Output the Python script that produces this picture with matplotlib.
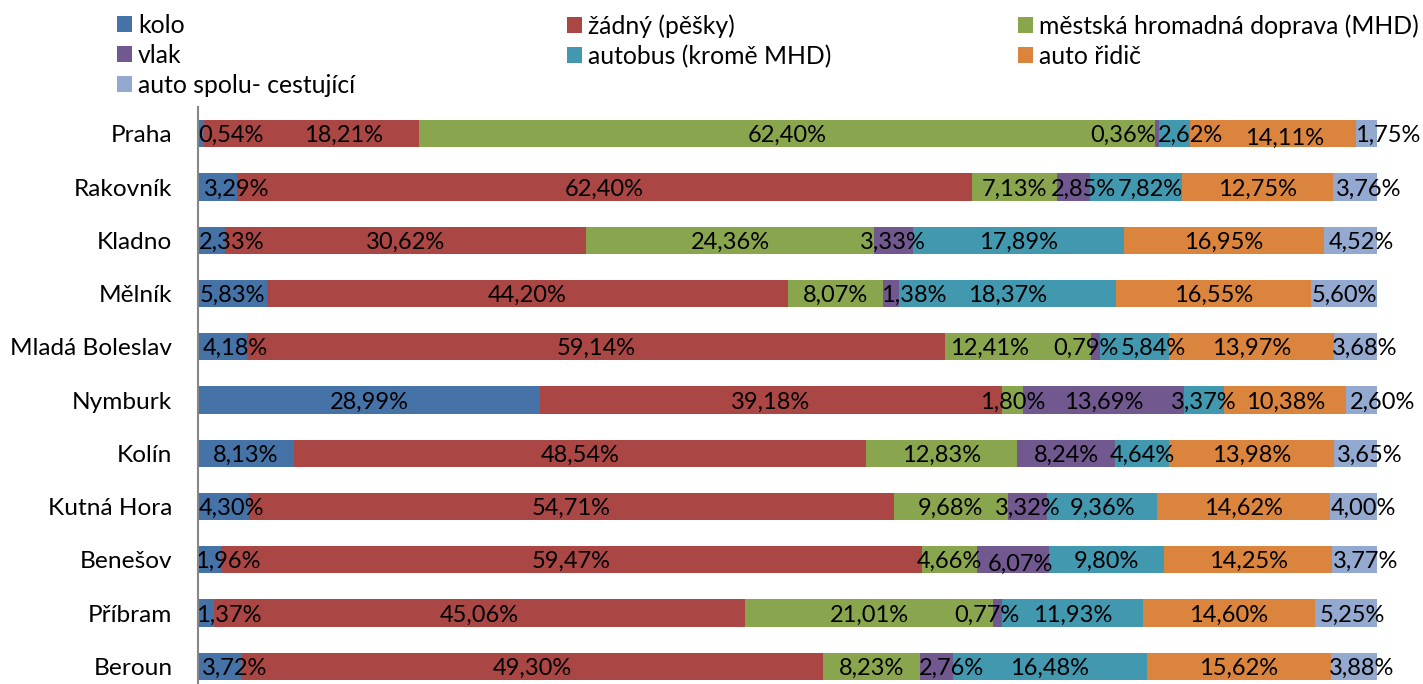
import matplotlib
matplotlib.use("Agg")
import matplotlib.pyplot as plt
from matplotlib.patches import Patch

plt.rcParams['font.family'] = ['Lato', 'DejaVu Sans']

categories = ["Praha", "Rakovník", "Kladno", "Mělník", "Mladá Boleslav", "Nymburk",
              "Kolín", "Kutná Hora", "Benešov", "Příbram", "Beroun"]
series_names = ["kolo", "žádný (pěšky)", "městská hromadná doprava (MHD)", "vlak",
                "autobus (kromě MHD)", "auto řidič", "auto spolu- cestující"]
kolo = [0.54, 3.29, 2.33, 5.83, 4.18, 28.99, 8.13, 4.30, 1.96, 1.37, 3.72]
pesky = [18.21, 62.40, 30.62, 44.20, 59.14, 39.18, 48.54, 54.71, 59.47, 45.06, 49.30]
mhd = [62.40, 7.13, 24.36, 8.07, 12.41, 1.80, 12.83, 9.68, 4.66, 21.01, 8.23]
vlak = [0.36, 2.85, 3.33, 1.38, 0.79, 13.69, 8.24, 3.32, 6.07, 0.77, 2.76]
autobus = [2.62, 7.82, 17.89, 18.37, 5.84, 3.37, 4.64, 9.36, 9.80, 11.93, 16.48]
auto_ridic = [14.11, 12.75, 16.95, 16.55, 13.97, 10.38, 13.98, 14.62, 14.25, 14.60, 15.62]
auto_spolu = [1.75, 3.76, 4.52, 5.60, 3.68, 2.60, 3.65, 4.00, 3.77, 5.25, 3.88]

series = [kolo, pesky, mhd, vlak, autobus, auto_ridic, auto_spolu]
colors = ["#4572A7", "#AA4643", "#89A54E", "#71588F", "#4198AF", "#DB843D", "#93A9CF"]

# label nudges (pixels) for labels that were moved off segment centres: (row, series) -> (dx, dy)
label_nudge = {
    (0, 0): (30, 0), (0, 1): (32, 0), (0, 3): (-34, 0), (0, 4): (16, 0), (0, 5): (12, 3), (0, 6): (21, 0),
    (1, 0): (19, 0), (1, 3): (10, 0), (1, 4): (14, 0), (1, 6): (14, 0),
    (2, 0): (20, 0), (2, 6): (11, 0),
    (3, 3): (23, 0),
    (4, 0): (13, 0), (4, 2): (-28, 0), (4, 3): (-10, 0), (4, 4): (19, 0), (4, 6): (9, 0),
    (5, 6): (21, 0),
    (6, 6): (14, 0),
    (7, 0): (8, 0), (7, 6): (10, 0),
    (8, 0): (18, 0), (8, 3): (7, 3), (8, 6): (11, 0),
    (9, 0): (23, 0), (9, 3): (-11, 0), (9, 6): (6, 0),
    (10, 0): (15, 0), (10, 3): (15, 0), (10, 6): (8, 0),
}

W, H = 1423, 684
fig = plt.figure(figsize=(W / 100, H / 100), dpi=100)
ax_left, ax_right, ax_top, ax_bottom = 198, 1377, 107.2, 692.9
ax = fig.add_axes([ax_left / W, 1 - ax_bottom / H, (ax_right - ax_left) / W, (ax_bottom - ax_top) / H])

ypos = list(range(len(categories)))
left = [0.0] * len(categories)
handles = []
px_per_unit = (ax_right - ax_left) / 100.0
for si, (vals, col, name) in enumerate(zip(series, colors, series_names)):
    ax.barh(ypos, vals, left=left, height=0.51, color=col, edgecolor='none', zorder=2)
    handles.append(Patch(facecolor=col, edgecolor='none', label=name))
    for ri, v in enumerate(vals):
        dx, dy = label_nudge.get((ri, si), (0, 0))
        xc = left[ri] + v / 2 + dx / px_per_unit
        ax.text(xc, ri + dy / 53.26, f"{v:.2f}%".replace('.', ','), ha='center', va='center_baseline',
                fontsize=17, color='black', zorder=5, clip_on=False)
    left = [l + v for l, v in zip(left, vals)]

ax.set_xlim(0, 100)
ax.set_ylim(len(categories) - 0.5, -0.5)
ax.set_yticks(ypos)
ax.set_yticklabels(categories, fontsize=17.6)
ax.tick_params(axis='y', length=0, pad=18.4)
ax.set_xticks([])
for s in ['top', 'right', 'bottom']:
    ax.spines[s].set_visible(False)
ax.spines['left'].set_color('#868686')
ax.spines['left'].set_linewidth(1.5)
ax.spines['left'].set_zorder(6)

# legend: three columns, placed individually
col_groups = [[0, 3, 6], [1, 4], [2, 5]]
col_x = [117, 567, 1018]
for grp, x in zip(col_groups, col_x):
    fig.legend([handles[i] for i in grp], [series_names[i] for i in grp],
               loc='upper left', bbox_to_anchor=(x / W, 1 - 14 / H),
               bbox_transform=fig.transFigure, frameon=False, fontsize=17.8,
               handlelength=0.61, handleheight=0.61, handletextpad=0.24,
               labelspacing=0.28, borderpad=0, borderaxespad=0)

fig.savefig("out.png", dpi=100)
